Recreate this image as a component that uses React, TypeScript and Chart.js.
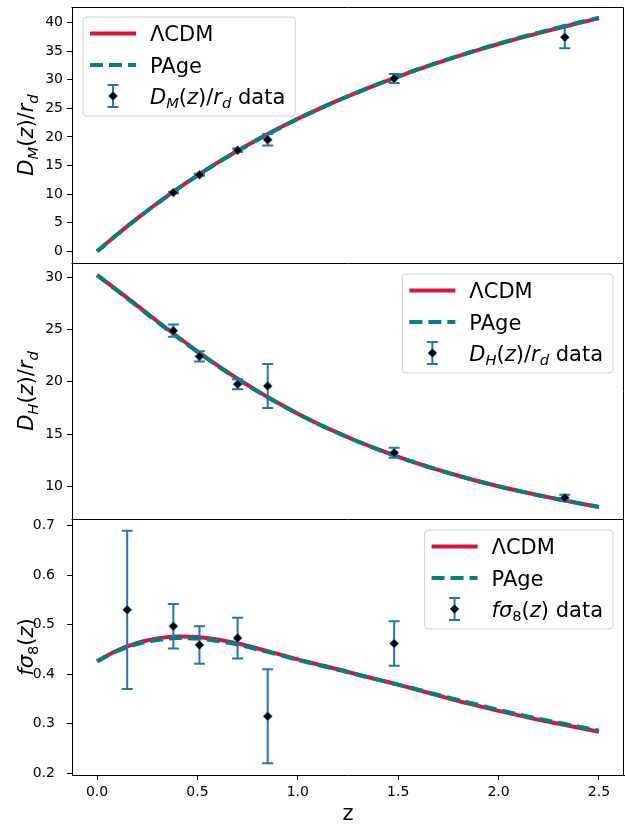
import React, { useEffect, useRef } from "react";
import { Chart, registerables } from "chart.js";

Chart.register(...registerables);

// ---------------- data ----------------
const Z_CURVE = [0, 0.1, 0.2, 0.3, 0.4, 0.5, 0.6, 0.7, 0.8, 0.9, 1.0, 1.1, 1.2, 1.3, 1.4, 1.5, 1.6, 1.7, 1.8, 1.9, 2.0, 2.1, 2.2, 2.3, 2.4, 2.5];

const DM_LCDM = [0, 2.95, 5.75, 8.4, 10.91, 13.27, 15.5, 17.59, 19.56, 21.42, 23.16, 24.81, 26.37, 27.84, 29.23, 30.55, 31.8, 32.99, 34.12, 35.2, 36.23, 37.21, 38.14, 39.04, 39.9, 40.73];
const DM_PAGE = [0, 2.95, 5.74, 8.38, 10.88, 13.24, 15.46, 17.55, 19.52, 21.38, 23.13, 24.79, 26.36, 27.84, 29.24, 30.57, 31.83, 33.03, 34.17, 35.26, 36.3, 37.29, 38.23, 39.13, 39.99, 40.81];

const DH_LCDM = [30.2, 28.76, 27.28, 25.79, 24.33, 22.92, 21.57, 20.3, 19.11, 18.0, 16.96, 16.0, 15.12, 14.3, 13.54, 12.84, 12.19, 11.59, 11.03, 10.51, 10.03, 9.59, 9.17, 8.78, 8.4, 8.05];
const DH_PAGE = [30.2, 28.72, 27.22, 25.72, 24.26, 22.86, 21.52, 20.26, 19.08, 17.98, 16.95, 15.99, 15.11, 14.29, 13.53, 12.83, 12.18, 11.58, 11.02, 10.5, 10.02, 9.58, 9.16, 8.77, 8.41, 8.06];

const FS8_LCDM = [0.426, 0.448, 0.463, 0.472, 0.476, 0.475, 0.47, 0.462, 0.452, 0.441, 0.43, 0.42, 0.41, 0.399, 0.389, 0.379, 0.368, 0.357, 0.346, 0.336, 0.326, 0.317, 0.308, 0.3, 0.292, 0.284];
const FS8_PAGE = [0.426, 0.447, 0.461, 0.469, 0.473, 0.472, 0.467, 0.46, 0.45, 0.44, 0.429, 0.419, 0.409, 0.399, 0.389, 0.379, 0.369, 0.358, 0.348, 0.338, 0.328, 0.319, 0.31, 0.302, 0.294, 0.286];

const Z_BAO = [0.38, 0.51, 0.7, 0.85, 1.48, 2.33];
const DM_DATA = [10.27, 13.38, 17.65, 19.5, 30.21, 37.4];
const DM_ERR = [0.15, 0.18, 0.3, 1.0, 0.79, 1.9];
const DH_DATA = [24.89, 22.43, 19.77, 19.6, 13.23, 8.93];
const DH_ERR = [0.58, 0.48, 0.47, 2.1, 0.47, 0.28];

const Z_RSD = [0.15, 0.38, 0.51, 0.7, 0.85, 1.48];
const FS8_DATA = [0.53, 0.497, 0.459, 0.473, 0.315, 0.462];
const FS8_ERR = [0.16, 0.045, 0.038, 0.041, 0.095, 0.045];

const X_TICKS = [0, 0.5, 1.0, 1.5, 2.0, 2.5];
const DM_TICKS = [0, 5, 10, 15, 20, 25, 30, 35, 40];
const DH_TICKS = [10, 15, 20, 25, 30];
const FS8_TICKS = [0.2, 0.3, 0.4, 0.5, 0.6, 0.7];

const LCDM_LABEL = "ΛCDM";
const PAGE_LABEL = "PAge";

// ---------------- styling ----------------
const FONT = '"DejaVu Sans"';
const RED = "#dc143c";
const TEAL = "#008080";
const BLUE = "#1f77b4";
const DASH = [13, 6];
const LW = 4;

type Seg = { t: string; it?: boolean; sub?: boolean };

const DM_SEGS: Seg[] = [
  { t: "D", it: true }, { t: "M", it: true, sub: true }, { t: "(" }, { t: "z", it: true }, { t: ")/" },
  { t: "r", it: true }, { t: "d", it: true, sub: true },
];
const DH_SEGS: Seg[] = [
  { t: "D", it: true }, { t: "H", it: true, sub: true }, { t: "(" }, { t: "z", it: true }, { t: ")/" },
  { t: "r", it: true }, { t: "d", it: true, sub: true },
];
const FS8_SEGS: Seg[] = [
  { t: "f", it: true }, { t: "σ", it: true }, { t: "8", sub: true }, { t: "(" }, { t: "z", it: true }, { t: ")" },
];

function segFont(s: Seg, size: number) {
  return `${s.it ? "italic " : ""}${s.sub ? size * 0.7 : size}px ${FONT}`;
}
function richWidth(ctx: CanvasRenderingContext2D, segs: Seg[], size: number) {
  let w = 0;
  for (const s of segs) {
    ctx.font = segFont(s, size);
    w += ctx.measureText(s.t).width;
  }
  return w;
}
function drawRich(ctx: CanvasRenderingContext2D, segs: Seg[], x: number, y: number, size: number, align: "left" | "center") {
  const w = richWidth(ctx, segs, size);
  let cx = align === "center" ? x - w / 2 : x;
  const base = y + 0.365 * size;
  ctx.textAlign = "left";
  ctx.textBaseline = "alphabetic";
  for (const s of segs) {
    ctx.font = segFont(s, size);
    ctx.fillText(s.t, cx, base + (s.sub ? size * 0.22 : 0));
    cx += ctx.measureText(s.t).width;
  }
}

type LegendItem = { kind: "line" | "dash" | "err"; segs: Seg[] };

function drawLegend(
  ctx: CanvasRenderingContext2D,
  anchor: { left?: number; right?: number; top: number },
  items: LegendItem[],
  size: number
) {
  const padL = 7, handle = 46, gap = 14, padR = 10, height = 99;
  const rows = [16.5, 48, 79];
  let tw = 0;
  for (const it of items) tw = Math.max(tw, richWidth(ctx, it.segs, size));
  const w = padL + handle + gap + tw + padR;
  const left = anchor.left !== undefined ? anchor.left : (anchor.right as number) - w;
  const top = anchor.top;
  ctx.save();
  ctx.beginPath();
  const r = 4;
  ctx.moveTo(left + r, top);
  ctx.arcTo(left + w, top, left + w, top + height, r);
  ctx.arcTo(left + w, top + height, left, top + height, r);
  ctx.arcTo(left, top + height, left, top, r);
  ctx.arcTo(left, top, left + w, top, r);
  ctx.closePath();
  ctx.fillStyle = "rgba(255,255,255,0.8)";
  ctx.fill();
  ctx.strokeStyle = "rgba(204,204,204,0.9)";
  ctx.lineWidth = 1;
  ctx.stroke();
  items.forEach((it, i) => {
    const y = top + rows[i];
    const hx = left + padL;
    if (it.kind === "line" || it.kind === "dash") {
      ctx.beginPath();
      ctx.strokeStyle = it.kind === "line" ? RED : TEAL;
      ctx.lineWidth = LW;
      ctx.lineCap = "butt";
      ctx.setLineDash(it.kind === "dash" ? DASH : []);
      ctx.moveTo(hx, y);
      ctx.lineTo(hx + handle, y);
      ctx.stroke();
      ctx.setLineDash([]);
    } else {
      const cx = hx + handle / 2;
      ctx.beginPath();
      ctx.strokeStyle = BLUE;
      ctx.lineWidth = 2;
      ctx.moveTo(cx, y - 11);
      ctx.lineTo(cx, y + 11);
      ctx.moveTo(cx - 5.5, y - 11);
      ctx.lineTo(cx + 5.5, y - 11);
      ctx.moveTo(cx - 5.5, y + 11);
      ctx.lineTo(cx + 5.5, y + 11);
      ctx.stroke();
      ctx.beginPath();
      ctx.moveTo(cx, y - 4.5);
      ctx.lineTo(cx + 4.5, y);
      ctx.lineTo(cx, y + 4.5);
      ctx.lineTo(cx - 4.5, y);
      ctx.closePath();
      ctx.fillStyle = "#000";
      ctx.strokeStyle = "rgba(31,119,180,0.7)";
      ctx.lineWidth = 1;
      ctx.fill();
      ctx.stroke();
    }
    ctx.fillStyle = "#000";
    drawRich(ctx, it.segs, hx + handle + gap, y, size, "left");
  });
  ctx.restore();
}

const errPlugin = {
  id: "errbars",
  beforeDatasetDraw(chart: any, args: any) {
    const ds = chart.data.datasets[args.index];
    if (!ds.errors) return;
    const ctx: CanvasRenderingContext2D = chart.ctx;
    const xs = chart.scales.x;
    const ys = chart.scales[ds.yAxisID];
    ctx.save();
    ctx.strokeStyle = BLUE;
    ctx.lineWidth = 2;
    ds.data.forEach((p: any, i: number) => {
      const px = xs.getPixelForValue(p.x);
      const y1 = ys.getPixelForValue(p.y - ds.errors[i]);
      const y2 = ys.getPixelForValue(p.y + ds.errors[i]);
      ctx.beginPath();
      ctx.moveTo(px, y1);
      ctx.lineTo(px, y2);
      ctx.moveTo(px - 5.5, y1);
      ctx.lineTo(px + 5.5, y1);
      ctx.moveTo(px - 5.5, y2);
      ctx.lineTo(px + 5.5, y2);
      ctx.stroke();
    });
    ctx.restore();
  },
};

const decoPlugin = {
  id: "deco",
  afterDatasetsDraw(chart: any) {
    const ctx: CanvasRenderingContext2D = chart.ctx;
    const a = chart.chartArea;
    const s1 = chart.scales.yTop;
    const s2 = chart.scales.yMid;
    ctx.save();
    ctx.strokeStyle = "#000";
    ctx.lineWidth = 1;
    ctx.beginPath();
    const L = Math.round(a.left) - 0.5, R = Math.round(a.right) - 0.5, T = Math.round(a.top) + 0.5;
    ctx.moveTo(L, T);
    ctx.lineTo(R, T);
    ctx.lineTo(R, Math.round(a.bottom));
    ctx.moveTo(L, Math.round(s1.bottom) + 0.5);
    ctx.lineTo(R, Math.round(s1.bottom) + 0.5);
    ctx.moveTo(L, Math.round(s2.bottom) + 0.5);
    ctx.lineTo(R, Math.round(s2.bottom) + 0.5);
    ctx.stroke();
    ctx.restore();
  },
  afterDraw(chart: any) {
    const ctx: CanvasRenderingContext2D = chart.ctx;
    const a = chart.chartArea;
    const panels = [chart.scales.yTop, chart.scales.yMid, chart.scales.yBot];
    const F = 21;
    ctx.save();
    ctx.fillStyle = "#000";
    // y labels
    const labels = [DM_SEGS, DH_SEGS, FS8_SEGS];
    panels.forEach((s: any, i: number) => {
      ctx.save();
      ctx.translate(25.5, (s.top + s.bottom) / 2);
      ctx.rotate(-Math.PI / 2);
      drawRich(ctx, labels[i], 0, 0, F, "center");
      ctx.restore();
    });
    // x label
    ctx.font = `${F}px ${FONT}`;
    ctx.textAlign = "center";
    ctx.textBaseline = "alphabetic";
    ctx.fillText("z", (a.left + a.right) / 2, 820);
    // legends
    const data = (segs: Seg[]): Seg[] => [...segs, { t: " data" }];
    drawLegend(ctx, { left: a.left + 11, top: panels[0].top + 10 }, [
      { kind: "line", segs: [{ t: LCDM_LABEL }] },
      { kind: "dash", segs: [{ t: PAGE_LABEL }] },
      { kind: "err", segs: data(DM_SEGS) },
    ], F);
    drawLegend(ctx, { right: a.right - 11, top: panels[1].top + 11 }, [
      { kind: "line", segs: [{ t: LCDM_LABEL }] },
      { kind: "dash", segs: [{ t: PAGE_LABEL }] },
      { kind: "err", segs: data(DH_SEGS) },
    ], F);
    drawLegend(ctx, { right: a.right - 11, top: panels[2].top + 11 }, [
      { kind: "line", segs: [{ t: LCDM_LABEL }] },
      { kind: "dash", segs: [{ t: PAGE_LABEL }] },
      { kind: "err", segs: data(FS8_SEGS) },
    ], F);
    ctx.restore();
  },
};

function curve(values: number[], color: string, dashed: boolean, yAxisID: string, order: number) {
  return {
    type: "line",
    data: Z_CURVE.map((z, i) => ({ x: z, y: values[i] })),
    borderColor: color,
    backgroundColor: color,
    borderWidth: LW,
    borderDash: dashed ? DASH : [],
    borderCapStyle: "butt",
    pointRadius: 0,
    fill: false,
    cubicInterpolationMode: "monotone",
    yAxisID,
    order,
  };
}

function points(zs: number[], values: number[], errs: number[], yAxisID: string) {
  return {
    type: "line",
    showLine: false,
    data: zs.map((z, i) => ({ x: z, y: values[i] })),
    errors: errs,
    pointStyle: "rectRot",
    pointRadius: 4.5,
    pointBackgroundColor: "#000",
    pointBorderColor: "rgba(31,119,180,0.7)",
    pointBorderWidth: 1,
    yAxisID,
    order: 0,
  };
}

const tickFont = { family: "DejaVu Sans", size: 14 };

function zeroPad(s: any) {
  s.paddingTop = 0;
  s.paddingBottom = 0;
  s.paddingLeft = 0;
  s.paddingRight = 0;
}

function yScale(min: number, max: number, ticks: number[], weight: number, decimals: number, pad: number) {
  return {
    type: "linear",
    position: "left",
    stack: "panels",
    stackWeight: 1,
    weight,
    min,
    max,
    afterBuildTicks: (s: any) => {
      s.ticks = ticks.map((v) => ({ value: v }));
    },
    afterFit: (s: any) => {
      s.width = 72;
      zeroPad(s);
    },
    ticks: {
      font: tickFont,
      color: "#000",
      padding: pad,
      autoSkip: false,
      callback: (v: any) => Number(v).toFixed(decimals),
    },
    grid: { drawOnChartArea: false, drawTicks: true, tickLength: 5, color: "#000", lineWidth: 1 },
    border: { display: true, color: "#000", width: 1 },
  };
}

export default function App() {
  const ref = useRef<HTMLCanvasElement | null>(null);
  useEffect(() => {
    if (!ref.current) return;
    const chart = new Chart(ref.current, {
      type: "line",
      data: {
        datasets: [
          points(Z_BAO, DM_DATA, DM_ERR, "yTop"),
          curve(DM_PAGE, TEAL, true, "yTop", 1),
          curve(DM_LCDM, RED, false, "yTop", 2),
          points(Z_BAO, DH_DATA, DH_ERR, "yMid"),
          curve(DH_PAGE, TEAL, true, "yMid", 1),
          curve(DH_LCDM, RED, false, "yMid", 2),
          points(Z_RSD, FS8_DATA, FS8_ERR, "yBot"),
          curve(FS8_PAGE, TEAL, true, "yBot", 1),
          curve(FS8_LCDM, RED, false, "yBot", 2),
        ] as any,
      },
      options: {
        responsive: false,
        maintainAspectRatio: false,
        devicePixelRatio: 1,
        animation: false,
        layout: { autoPadding: false, padding: { top: 7, right: 1, left: 0, bottom: 0 } },
        plugins: { legend: { display: false }, tooltip: { enabled: false } },
        scales: {
          x: {
            type: "linear",
            position: "bottom",
            min: -0.125,
            max: 2.625,
            afterBuildTicks: (s: any) => {
              s.ticks = X_TICKS.map((v) => ({ value: v }));
            },
            afterFit: (s: any) => {
              s.height = 50;
              zeroPad(s);
            },
            ticks: {
              font: tickFont,
              color: "#000",
              padding: 4,
              maxRotation: 0,
              autoSkip: false,
              callback: (v: any) => Number(v).toFixed(1),
            },
            grid: { drawOnChartArea: false, drawTicks: true, tickLength: 5, color: "#000", lineWidth: 1 },
            border: { display: true, color: "#000", width: 1 },
          },
          yBot: yScale(0.1965, 0.7135, FS8_TICKS, 1, 1, 12),
          yMid: yScale(6.9, 31.35, DH_TICKS, 2, 0, 4),
          yTop: yScale(-2.04, 42.7, DM_TICKS, 3, 0, 4),
        } as any,
      },
      plugins: [errPlugin, decoPlugin],
    });
    return () => chart.destroy();
  }, []);
  return (
    <canvas
      ref={ref}
      width={625}
      height={825}
      style={{ position: "absolute", left: 0, top: 0, width: 625, height: 825 }}
    />
  );
}
